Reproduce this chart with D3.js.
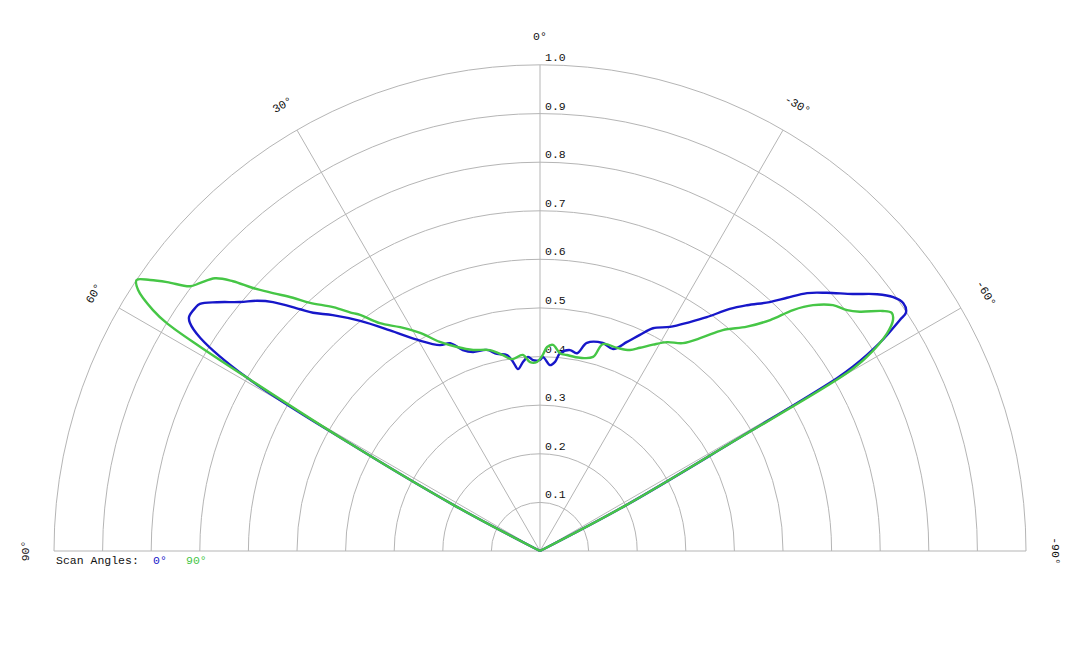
<!DOCTYPE html>
<html>
<head>
<meta charset="utf-8">
<script src="https://cdn.jsdelivr.net/npm/d3@7/dist/d3.min.js"></script>
<style>
  html, body { margin: 0; padding: 0; background: #fff; }
  svg text { font-family: "Liberation Mono", "Courier New", monospace; font-size: 11.5px; fill: #111; }
</style>
</head>
<body>
<svg id="chart" width="1080" height="648"></svg>
<script>
// ring values and angle spokes
const ringTicks = [0.1, 0.2, 0.3, 0.4, 0.5, 0.6, 0.7, 0.8, 0.9, 1.0];
const ringLabels = ['0.1', '0.2', '0.3', '0.4', '0.5', '0.6', '0.7', '0.8', '0.9', '1.0'];
const spokeAngles = [90, 60, 30, 0, -30, -60, -90];
const spokeLabels = ['90°', '60°', '30°', '0°', '-30°', '-60°', '-90°'];

const seriesNames = ['0°', '90°'];
const seriesColors = ['#1717c9', '#46c646'];

// [angle in degrees (positive = left), relative intensity]
const scan0 = [
  [63, 0], [62, 0.2], [60.5, 0.45], [59.4, 0.70], [57.9, 0.825], [56.9, 0.86], [56.3, 0.868],
  [54.8, 0.868], [54.0, 0.865], [52.4, 0.839], [50.3, 0.802], [48.5, 0.777], [47.0, 0.751],
  [44.8, 0.701], [43.6, 0.677], [41.3, 0.646], [38.0, 0.601], [34.2, 0.549], [30.2, 0.503],
  [25.9, 0.471], [23.4, 0.466], [21.0, 0.443], [18.6, 0.432], [14.8, 0.428], [12.3, 0.415],
  [9.6, 0.409], [8.1, 0.393], [6.9, 0.377], [5.1, 0.391], [3.5, 0.400], [2.1, 0.393],
  [0, 0.393], [-0.9, 0.399], [-3.1, 0.383], [-4.5, 0.390], [-5.8, 0.409], [-8.5, 0.418],
  [-10.6, 0.414], [-12.7, 0.439], [-16.8, 0.447], [-19.9, 0.442], [-22.6, 0.466],
  [-24.8, 0.490], [-26.9, 0.514], [-30.1, 0.533], [-33.2, 0.563], [-35.5, 0.591],
  [-38.1, 0.633], [-40.1, 0.661], [-42.7, 0.697], [-44.3, 0.728], [-46.0, 0.764],
  [-48.0, 0.794], [-50.6, 0.833], [-52.7, 0.872], [-54.3, 0.895], [-55.7, 0.905],
  [-56.9, 0.899], [-57.3, 0.880], [-58.5, 0.820], [-59.5, 0.747], [-59.8, 0.707],
  [-60.5, 0.45], [-62, 0.2], [-63, 0]
];

const scan90 = [
  [63, 0], [62, 0.2], [60.5, 0.45], [59.4, 0.70], [59.0, 0.816], [58.6, 0.899], [58.1, 0.938],
  [57.0, 0.986], [56.1, 1.0], [55.2, 0.977], [54.2, 0.946], [52.9, 0.903], [51.8, 0.891],
  [50.0, 0.873], [48.7, 0.841], [47.5, 0.801], [46.0, 0.764], [44.3, 0.728], [42.8, 0.696],
  [40.3, 0.658], [38.2, 0.623], [37.3, 0.611], [35.1, 0.573], [32.0, 0.543], [28.8, 0.512],
  [25.6, 0.477], [22.1, 0.453], [18.4, 0.436], [14.0, 0.426], [10.7, 0.41], [8.3, 0.399],
  [5.0, 0.405], [3.0, 0.389], [0.9, 0.389], [-0.6, 0.401], [-2.0, 0.42], [-3.6, 0.425],
  [-5.8, 0.409], [-7.8, 0.407], [-11.7, 0.406], [-15.3, 0.414], [-16.9, 0.445],
  [-20.8, 0.447], [-24.1, 0.453], [-26.2, 0.466], [-28.7, 0.484], [-31.3, 0.503],
  [-34.5, 0.519], [-37.3, 0.553], [-39.6, 0.590], [-42.7, 0.628], [-44.9, 0.671],
  [-46.4, 0.719], [-48.0, 0.756], [-50.0, 0.787], [-51.9, 0.803], [-53.2, 0.822],
  [-55.0, 0.861], [-55.9, 0.874], [-56.8, 0.868], [-57.9, 0.843], [-59.3, 0.782],
  [-59.9, 0.730], [-60.5, 0.45], [-62, 0.2], [-63, 0]
];

const cx = 540, cy = 551, outerR = 486;
const svg = d3.select('#chart');

const r = d3.scaleLinear().domain([0, 1]).range([0, outerR]);
const rad = deg => -deg * Math.PI / 180; // d3 angle: clockwise from top

const g = svg.append('g').attr('transform', `translate(${cx},${cy})`);

// rings (upper half circles)
g.append('g')
  .selectAll('path')
  .data(ringTicks)
  .enter()
  .append('path')
  .attr('d', d => {
    const p = d3.path();
    p.arc(0, 0, r(d), Math.PI, 2 * Math.PI);
    return p.toString();
  })
  .attr('fill', 'none')
  .attr('stroke', '#b5b5b5')
  .attr('stroke-width', 1);

// spokes
g.append('g')
  .selectAll('line')
  .data(spokeAngles)
  .enter()
  .append('line')
  .attr('x1', 0).attr('y1', 0)
  .attr('x2', d => r(1) * Math.sin(rad(d)))
  .attr('y2', d => -r(1) * Math.cos(rad(d)))
  .attr('stroke', '#b5b5b5')
  .attr('stroke-width', 1);

// ring labels
g.append('g')
  .selectAll('text')
  .data(ringTicks)
  .enter()
  .append('text')
  .attr('x', 5)
  .attr('y', d => -r(d) - 4)
  .text((d, i) => ringLabels[i]);

// angle labels, turned along the circle
g.append('g')
  .selectAll('text')
  .data(spokeAngles)
  .enter()
  .append('text')
  .attr('transform', d => {
    const lr = 515;
    const x = lr * Math.sin(rad(d));
    const y = -lr * Math.cos(rad(d));
    return `translate(${x},${y}) rotate(${-d})`;
  })
  .attr('text-anchor', 'middle')
  .attr('dominant-baseline', 'central')
  .text((d, i) => spokeLabels[i]);

// curves
const line = d3.lineRadial()
  .angle(d => rad(d[0]))
  .radius(d => r(d[1]))
  .curve(d3.curveCatmullRom.alpha(0.5));

[scan0, scan90].forEach((s, i) => {
  g.append('path')
    .datum(s)
    .attr('d', line)
    .attr('fill', 'none')
    .attr('stroke', seriesColors[i])
    .attr('stroke-width', 2.4)
    .attr('stroke-linejoin', 'round');
});

// legend
const legend = svg.append('g').attr('transform', 'translate(56,564)');
legend.append('text').attr('x', 0).attr('y', 0).text('Scan Angles:');
legend.selectAll('text.series')
  .data(seriesNames)
  .enter()
  .append('text')
  .attr('class', 'series')
  .attr('x', (d, i) => 97 + i * 33)
  .attr('y', 0)
  .style('fill', (d, i) => seriesColors[i])
  .text(d => d);
</script>
</body>
</html>
